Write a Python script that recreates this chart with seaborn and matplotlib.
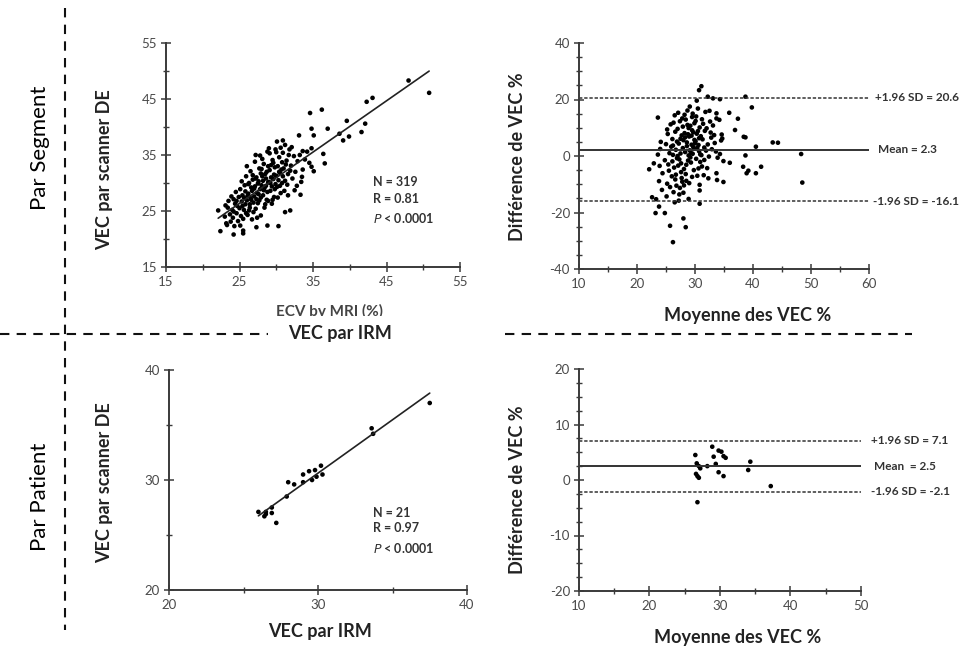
import numpy as np
import pandas as pd
import matplotlib
matplotlib.use("Agg")
import matplotlib.pyplot as plt
from matplotlib.lines import Line2D
from matplotlib.patches import Rectangle
import matplotlib.transforms as mtransforms
import seaborn as sns

sns.set_theme(style="white")
plt.rcParams['font.family'] = ['Lato', 'DejaVu Sans']
plt.rcParams['axes.unicode_minus'] = False

# --- data: per segment, VEC by MRI (x) vs VEC by DE scanner (y) ---
seg_corr = [
    (23.0, 24.0), (23.2, 22.8), (23.4, 25.6), (23.5, 26.8), (23.7, 24.4), (23.8, 23.1), (23.9, 27.6), (23.1, 26.0),
    (24.0, 25.2), (24.1, 23.8), (24.2, 27.1), (24.3, 22.3), (24.4, 26.3), (24.5, 28.4), (24.6, 24.6), (24.7, 25.9),
    (24.8, 23.2), (24.9, 27.5), (24.2, 24.9), (24.6, 26.8),
    (25.0, 25.5), (25.1, 28.9), (25.2, 24.1), (25.3, 26.7), (25.4, 27.8), (25.5, 23.6), (25.6, 25.2), (25.7, 29.6),
    (25.8, 26.2), (25.9, 24.6), (25.1, 22.4), (25.3, 30.3), (25.6, 27.4), (25.8, 28.5), (25.4, 25.9), (25.9, 31.2),
    (26.0, 26.9), (26.1, 24.3), (26.2, 28.1), (26.3, 30.0), (26.4, 25.6), (26.5, 27.3), (26.6, 29.2), (26.7, 23.5),
    (26.8, 31.4), (26.9, 26.5), (26.1, 27.7), (26.3, 25.1), (26.5, 32.1), (26.7, 28.6), (26.9, 24.8), (26.2, 29.8),
    (26.4, 26.2), (26.8, 30.6), (26.6, 27.0), (26.0, 33.0),
    (27.0, 27.6), (27.1, 29.4), (27.2, 25.4), (27.3, 31.0), (27.4, 28.2), (27.5, 26.4), (27.6, 30.3), (27.7, 32.6),
    (27.8, 28.9), (27.9, 24.2), (27.1, 33.8), (27.3, 27.1), (27.5, 29.9), (27.7, 26.9), (27.9, 31.7), (27.2, 30.8),
    (27.4, 23.8), (27.6, 28.0), (27.8, 34.9), (27.0, 29.0), (27.9, 27.4),
    (28.0, 29.6), (28.1, 31.2), (28.2, 27.8), (28.3, 33.4), (28.4, 29.1), (28.5, 26.2), (28.6, 30.8), (28.7, 32.0),
    (28.8, 28.4), (28.9, 30.1), (28.1, 34.3), (28.3, 28.7), (28.5, 31.6), (28.7, 27.0), (28.9, 33.0), (28.2, 30.4),
    (28.4, 25.6), (28.6, 29.5), (28.8, 35.6), (28.0, 32.5), (28.9, 26.8),
    (29.0, 30.2), (29.1, 32.3), (29.2, 28.6), (29.3, 31.0), (29.4, 29.4), (29.5, 34.1), (29.6, 30.7), (29.7, 27.5),
    (29.8, 32.8), (29.9, 29.8), (29.1, 35.3), (29.3, 33.2), (29.5, 27.0), (29.7, 31.5), (29.9, 36.0), (29.2, 30.0),
    (29.4, 26.3), (29.6, 33.6), (29.8, 28.9), (29.0, 36.2),
    (30.0, 31.3), (30.1, 29.3), (30.2, 33.0), (30.3, 30.5), (30.4, 34.6), (30.5, 31.8), (30.6, 28.2), (30.7, 32.4),
    (30.8, 30.0), (30.9, 35.4), (30.2, 27.4), (30.4, 32.0), (30.6, 36.3), (30.8, 33.7), (30.1, 37.4), (30.5, 29.5),
    (30.9, 31.2),
    (31.0, 32.6), (31.2, 30.4), (31.4, 34.0), (31.6, 31.6), (31.8, 36.0), (31.1, 28.6), (31.3, 33.3), (31.5, 29.7),
    (31.7, 35.0), (31.9, 32.2), (31.2, 36.8), (31.6, 27.8),
    (32.0, 33.1), (32.2, 30.8), (32.4, 34.8), (32.6, 32.0), (32.8, 29.5), (32.1, 36.4), (32.5, 28.7), (32.9, 33.9),
    (33.2, 35.0), (33.6, 32.4), (33.9, 34.2), (33.4, 30.2), (34.2, 35.6), (34.5, 33.6), (34.8, 36.2),
    # sparse points
    (50.8, 46.1), (48.0, 48.3), (43.1, 45.2), (42.3, 44.5), (42.1, 40.6), (41.6, 39.1), (39.6, 41.1), (39.9, 38.3),
    (39.1, 37.6), (38.6, 38.8), (37.0, 39.7), (36.2, 43.1), (34.6, 42.5), (34.8, 39.7), (35.1, 38.5), (36.4, 35.2),
    (36.6, 33.5), (34.8, 32.9), (35.1, 32.1), (33.1, 38.5), (33.6, 35.7), (33.5, 31.1), (33.3, 27.9), (31.9, 25.1),
    (31.2, 24.8), (30.3, 22.3), (28.8, 22.4), (22.1, 25.1), (22.4, 21.4), (23.3, 22.5), (24.2, 20.8), (25.5, 21.0),
    (25.5, 21.5), (27.3, 22.1), (30.0, 35.5), (30.9, 37.6), (27.2, 35.0),
]

# --- per segment, Bland-Altman: mean (x) vs difference (y) ---
seg_ba = [
    (23.6, 0.5), (23.9, -3.5), (24.1, 5.0), (23.8, -8.9), (24.3, -12.0), (24.0, 2.5), (24.4, -6.1),
    (24.8, -1.5), (25.0, 4.2), (25.2, -9.8), (25.3, 7.8), (25.5, -5.2), (25.6, 1.0), (25.8, 11.2), (25.1, -14.3),
    (25.4, -3.0), (25.7, -11.0), (25.9, 3.3), (25.2, 9.4),
    (26.0, -7.2), (26.1, 6.0), (26.2, 0.4), (26.3, 11.8), (26.4, -4.1), (26.5, -16.4), (26.6, 8.6), (26.7, 2.2),
    (26.8, -10.5), (26.9, 5.1), (26.1, -1.9), (26.3, -12.8), (26.5, 14.4), (26.7, -6.6), (26.9, -0.8), (26.2, 3.7),
    (26.6, -8.3),
    (27.0, 9.6), (27.1, -3.4), (27.2, 4.4), (27.3, -13.6), (27.4, 12.3), (27.5, 0.9), (27.6, -5.7), (27.7, 7.3),
    (27.8, -9.1), (27.9, 2.8), (27.1, 15.3), (27.3, -1.2), (27.5, 6.1), (27.7, -7.8), (27.9, 10.4), (27.2, -15.8),
    (27.6, -2.6), (27.8, 13.3), (27.0, 0.0), (27.4, -11.3),
    (28.0, 5.6), (28.1, -4.6), (28.2, 8.1), (28.3, 1.4), (28.4, 12.9), (28.5, -8.8), (28.6, 3.5), (28.7, 16.1),
    (28.8, -1.6), (28.9, 9.9), (28.1, -10.4), (28.3, 6.6), (28.5, -3.1), (28.7, 11.0), (28.9, 0.2), (28.2, 14.6),
    (28.4, -6.4), (28.6, 4.8), (28.8, 7.7), (28.0, -13.0), (28.9, -15.2),
    (29.0, 6.9), (29.1, 2.0), (29.2, 10.7), (29.3, -2.3), (29.4, 4.0), (29.5, 13.8), (29.6, 0.8), (29.7, 8.4),
    (29.8, -5.0), (29.9, 5.7), (29.1, 17.5), (29.3, 1.1), (29.5, -7.4), (29.7, 3.2), (29.9, 11.6), (29.2, -0.5),
    (29.4, 7.2), (29.6, 15.0), (29.8, 2.6), (29.0, -9.6), (29.5, 9.1),
    (30.0, 4.5), (30.1, 12.4), (30.2, -1.0), (30.3, 7.9), (30.4, 2.9), (30.5, 16.8), (30.6, -4.4), (30.7, 6.3),
    (30.8, 10.1), (30.9, 0.6), (30.2, 14.0), (30.4, -7.0), (30.6, 3.9), (30.8, -10.2), (30.1, 5.2), (30.5, 8.8),
    (30.9, -2.1), (30.3, 19.6), (30.7, 1.7),
    (31.0, 7.0), (31.2, -3.7), (31.4, 11.4), (31.6, 3.0), (31.8, 15.6), (31.1, 0.3), (31.3, 5.9), (31.5, -6.8),
    (31.7, 8.9), (31.9, 1.9), (31.2, 13.0), (31.6, -1.4),
    (32.0, 9.8), (32.2, 4.1), (32.4, -0.2), (32.6, 12.2), (32.8, 6.5), (32.1, -4.3), (32.5, 16.0), (32.9, 2.4),
    (32.3, -7.9), (32.7, 8.3),
    (33.1, 10.8), (33.4, 4.6), (33.7, 15.1), (33.9, -0.6), (33.3, 7.4), (33.6, 1.6),
    (34.2, 12.8), (34.5, 5.5), (34.9, -1.8), (34.6, 7.6),
    # sparse points
    (31.1, 24.7), (30.7, 23.3), (23.6, 13.6), (22.1, -4.7), (22.9, -2.6), (22.6, -14.6), (23.3, -15.3),
    (23.2, -20.2), (23.8, -17.9), (24.8, -20.2), (26.2, -30.5), (25.7, -24.7), (28.0, -22.1), (28.4, -25.2),
    (30.8, -12.2), (30.8, -16.9), (35.9, 15.3), (37.4, 13.2), (36.9, 9.2), (38.4, 6.8), (38.7, 6.6),
    (38.7, 21.0), (39.8, 17.2), (38.7, 0.2), (40.5, 3.3), (43.4, 4.8), (44.3, 4.7), (38.3, -3.8),
    (39.2, -5.2), (38.9, -6.1), (40.5, -6.1), (41.4, -3.8), (48.3, 0.7), (48.5, -9.4), (36.0, -2.4),
    (34.9, -9.2), (33.8, -8.5), (33.7, -6.1), (34.7, 6.2), (34.3, 0.7), (32.2, 21.0), (33.1, 20.4),
    (34.3, 20.1), (33.7, 13.3),
]

# --- per patient (21 patients) ---
pat_irm = [37.5, 33.6, 33.7, 30.2, 30.3, 29.8, 29.4, 29.0, 28.4, 28.0, 29.0,
           29.6, 29.9, 27.9, 26.9, 26.9, 26.5, 26.4, 26.0, 26.5, 27.2]
pat_ct = [37.0, 34.7, 34.2, 31.3, 30.5, 30.9, 30.8, 30.5, 29.6, 29.8, 29.8,
          30.0, 30.3, 28.5, 27.5, 27.0, 26.9, 26.7, 27.1, 27.1, 26.1]

pat_mean = [26.5, 26.7, 27.0, 27.2, 26.6, 26.8, 27.0, 26.8, 28.2, 28.9, 29.1,
            29.4, 29.8, 30.5, 29.8, 30.2, 30.5, 30.8, 34.0, 34.3, 37.2]
pat_diff = [4.5, 3.0, 2.5, 2.1, 1.1, 0.7, 0.4, -4.0, 2.5, 6.0, 4.2,
            2.9, 1.4, 0.7, 5.3, 5.1, 4.3, 4.0, 1.8, 3.3, -1.1]

seg_limits = {"mean": 2.3, "upper": 20.6, "lower": -16.1}
pat_limits = {"mean": 2.5, "upper": 7.1, "lower": -2.1}

seg_corr_df = pd.DataFrame(seg_corr, columns=["irm", "ct"])
seg_ba_df = pd.DataFrame(seg_ba, columns=["moy", "diff"])
pat_corr_df = pd.DataFrame({"irm": pat_irm, "ct": pat_ct})
pat_ba_df = pd.DataFrame({"moy": pat_mean, "diff": pat_diff})

W, H = 962, 649
fig = plt.figure(figsize=(W / 100, H / 100), dpi=100)


def box(x0, y0, x1, y1):
    # pixel box -> figure fraction rect
    return [x0 / W, 1 - y1 / H, (x1 - x0) / W, (y1 - y0) / H]


def fx(px):
    return px / W


def fy(py):
    return 1 - py / H


ax_tl = fig.add_axes(box(166, 43, 460, 267))
ax_tr = fig.add_axes(box(579, 43, 869, 269))
ax_bl = fig.add_axes(box(169, 370, 467, 590))
ax_br = fig.add_axes(box(579, 369, 861, 591))

spine_col = "#3a3a3a"
tick_col = "#4a4a4a"


def style_axes(ax, xlim, ylim, xmaj, xmin, ymaj, ymin):
    ax.set_xlim(*xlim)
    ax.set_ylim(*ylim)
    ax.set_xticks(xmaj)
    ax.set_xticks(xmin, minor=True)
    ax.set_yticks(ymaj)
    ax.set_yticks(ymin, minor=True)
    sns.despine(ax=ax)
    for s in ["left", "bottom"]:
        ax.spines[s].set_color(spine_col)
        ax.spines[s].set_linewidth(1.4)
    ax.tick_params(which="both", bottom=True, left=True)
    ax.tick_params(which="major", direction="inout", length=7, width=1.1,
                   color=spine_col, labelsize=9.5, labelcolor=tick_col, pad=3)
    ax.tick_params(which="minor", direction="inout", length=4, width=1.0, color=spine_col)
    ax.set_xlabel("")
    ax.set_ylabel("")
    ax.set_facecolor("white")


dot = dict(color="black", s=11, edgecolor="none", linewidth=0)

# top-left: correlation per segment
sns.scatterplot(data=seg_corr_df, x="irm", y="ct", ax=ax_tl, **dot)
sns.regplot(data=seg_corr_df, x="irm", y="ct", ax=ax_tl, scatter=False, ci=None,
            line_kws=dict(color="#222222", lw=1.2))
style_axes(ax_tl, (15, 55), (15, 55), [15, 25, 35, 45, 55], [20, 30, 40, 50],
           [15, 25, 35, 45, 55], [20, 30, 40, 50])

# bottom-left: correlation per patient
sns.scatterplot(data=pat_corr_df, x="irm", y="ct", ax=ax_bl, **dot)
sns.regplot(data=pat_corr_df, x="irm", y="ct", ax=ax_bl, scatter=False, ci=None,
            line_kws=dict(color="#222222", lw=1.2))
style_axes(ax_bl, (20, 40), (20, 40), [20, 30, 40], [25, 35], [20, 30, 40], [25, 35])

# right column: Bland-Altman
dash = (0, (2.2, 1.2))
for ax, df, lim, xl, yl, xt, xm, yt, ym in [
    (ax_tr, seg_ba_df, seg_limits, (10, 60), (-40, 40),
     np.arange(10, 61, 10), np.arange(15, 60, 10), np.arange(-40, 41, 20), np.arange(-35, 40, 5)),
    (ax_br, pat_ba_df, pat_limits, (10, 50), (-20, 20),
     np.arange(10, 51, 10), np.arange(15, 50, 10), np.arange(-20, 21, 10), np.arange(-17.5, 20, 2.5)),
]:
    sns.scatterplot(data=df, x="moy", y="diff", ax=ax, **dot)
    ax.axhline(lim["mean"], color="#333333", lw=1.4, zorder=1)
    ax.axhline(lim["upper"], color="#333333", lw=1.1, ls=dash, zorder=1)
    ax.axhline(lim["lower"], color="#333333", lw=1.1, ls=dash, zorder=1)
    style_axes(ax, xl, yl, xt, xm, yt, ym)

# limit labels to the right of the Bland-Altman plots
lbl = dict(fontsize=8.5, fontweight="bold", color="#333333", va="center", ha="left", clip_on=False)
tr_t = mtransforms.blended_transform_factory(ax_tr.transAxes, ax_tr.transData)
ax_tr.text(1.02, seg_limits["upper"], "+1.96 SD = 20.6", transform=tr_t, **lbl)
ax_tr.text(1.03, seg_limits["mean"], "Mean = 2.3", transform=tr_t, **lbl)
ax_tr.text(1.015, seg_limits["lower"], "-1.96 SD = -16.1", transform=tr_t, **lbl)

br_t = mtransforms.blended_transform_factory(ax_br.transAxes, ax_br.transData)
ax_br.text(1.035, pat_limits["upper"], "+1.96 SD = 7.1", transform=br_t, **lbl)
ax_br.text(1.045, pat_limits["mean"], "Mean  = 2.5", transform=br_t, **lbl)
ax_br.text(1.035, pat_limits["lower"], "-1.96 SD = -2.1", transform=br_t, **lbl)

# stats annotations
for ax, x0, ys, n, r in [(ax_tl, 0.704, (0.379, 0.304, 0.219), "319", "0.81"),
                         (ax_bl, 0.685, (0.35, 0.282, 0.191), "21", "0.97")]:
    kw = dict(transform=ax.transAxes, fontsize=9, fontweight="bold", color="#333333",
              ha="left", va="center")
    ax.text(x0, ys[0], f"N = {n}", **kw)
    ax.text(x0, ys[1], f"R = {r}", **kw)
    ax.text(x0, ys[2], r"$\it{P}$ < 0.0001", **kw)

# axis labels (placed in figure pixels)
lab = dict(fontsize=13, fontweight="bold", color="#222222", ha="center", va="center")
fig.text(fx(105), fy(170), "VEC par scanner DE", rotation=90, **lab)
fig.text(fx(105), fy(483), "VEC par scanner DE", rotation=90, **lab)
fig.text(fx(518), fy(157), "Différence de VEC %", rotation=90, **lab)
fig.text(fx(518), fy(490), "Différence de VEC %", rotation=90, **lab)
fig.text(fx(748), fy(315), "Moyenne des VEC %", **lab)
fig.text(fx(738), fy(637), "Moyenne des VEC %", **lab)
fig.text(fx(320), fy(632), "VEC par IRM", **lab)

# leftover original label, partly hidden under the separator label
fig.text(fx(330), fy(311), "ECV by MRI (%)", fontsize=11, fontweight="bold", color="#444444",
         ha="center", va="center", zorder=4)
fig.add_artist(Rectangle((fx(262), fy(326)), (398 - 262) / W, 10 / H,
                         transform=fig.transFigure, facecolor="white",
                         edgecolor="none", zorder=5))
fig.text(fx(340), fy(333), "VEC par IRM", zorder=6, **lab)

# row titles
fig.text(fx(40), fy(148), "Par Segment", rotation=90, fontsize=16,
         color="black", ha="center", va="center")
fig.text(fx(40), fy(497), "Par Patient", rotation=90, fontsize=16,
         color="black", ha="center", va="center")

# dashed separators
sep = dict(color="#111111", lw=1.5, dashes=(4.5, 3.5), transform=fig.transFigure)
fig.add_artist(Line2D([fx(65), fx(65)], [fy(8), fy(630)], **sep))
fig.add_artist(Line2D([fx(0), fx(268)], [fy(334), fy(334)], **sep))
fig.add_artist(Line2D([fx(505), fx(912)], [fy(334), fy(334)], **sep))

fig.savefig("out.png", dpi=100, facecolor="white")
